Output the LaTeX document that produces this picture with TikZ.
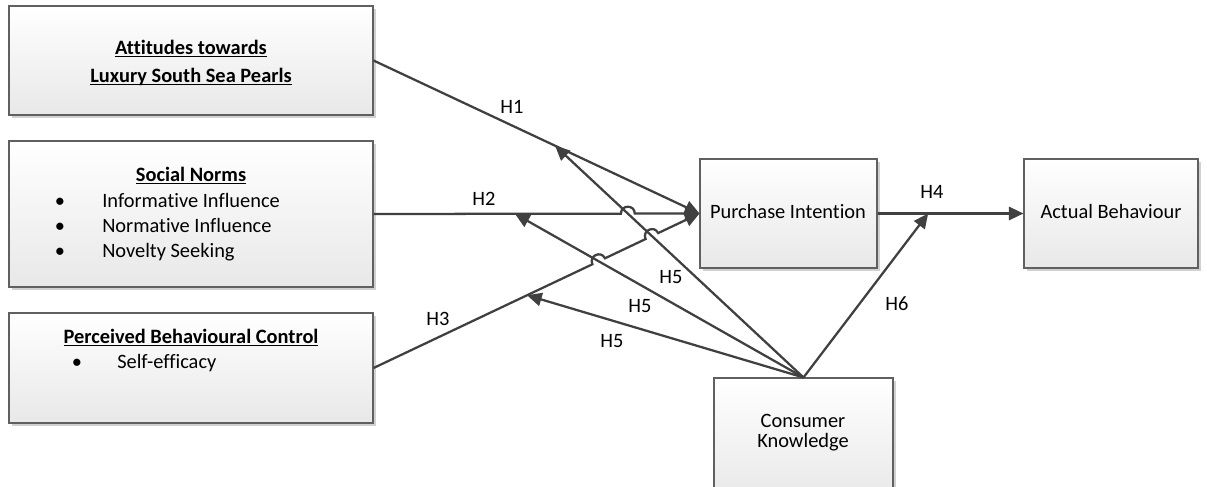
\documentclass[tikz,border=0pt]{standalone}
\usepackage{fontspec}
\setmainfont{Carlito}[Ligatures=NoCommon]
\usetikzlibrary{arrows.meta,calc,fit,shadows}
\newcommand{\ulhead}[1]{\underline{\smash{\textbf{#1}}}}
\definecolor{edgegrey}{HTML}{404040}
\definecolor{boxline}{HTML}{606060}
\definecolor{boxbottom}{HTML}{E8E8E8}

\begin{document}
\begin{tikzpicture}[
        x=0.75pt, y=-0.75pt,
        every node/.style={font=\fontsize{15.3pt}{18pt}\selectfont},
        box/.style={draw=boxline, line width=0.8pt, top color=white, bottom color=boxbottom, inner sep=0pt,
            drop shadow={shadow xshift=2pt, shadow yshift=-2pt, fill=black!18, opacity=1}},
        txt/.style={inner sep=0pt, text height=10.5pt, text depth=3pt},
        link/.style={draw=edgegrey, line width=1.7pt, -{Triangle[length=11pt, width=10pt]}},
        hop/.style={bend left=90, looseness=1.7},
    ]
    \useasboundingbox (0,0) rectangle (1207,486);

    % === LEFT SIDE: constructs ===
    \node[box, fit={(9,6) (373,115)}] (att) {};
    \node[txt] (att1) at (191,49) {\ulhead{Attitudes towards}};
    \node[txt] (att2) at (191,77) {\ulhead{Luxury South Sea Pearls}};

    \node[box, fit={(9,141) (373,287)}] (sn) {};
    \node[txt] (sn0) at (191,176) {\ulhead{Social Norms}};
    \foreach \y/\t [count=\i] in {202/Informative Influence, 227/Normative Influence, 252/Novelty Seeking} {
        \node[txt] (snb\i) at (60,\y) {\textbullet};
        \node[txt, anchor=west] (sn\i) at (102,\y) {\t};
    }

    \node[box, fit={(9,313) (373,423)}] (pbc) {};
    \node[txt] (pbc0) at (191,338) {\ulhead{Perceived Behavioural Control}};
    \node[txt] (pbcb1) at (77,363) {\textbullet};
    \node[txt, anchor=west] (pbc1) at (117,363) {Self-efficacy};

    % === RIGHT SIDE: intention, behaviour, knowledge ===
    \node[box, fit={(700,159) (877,268)}] (pi) {};
    \node[txt] (pitext) at (788,213) {Purchase Intention};

    \node[box, fit={(1024,159) (1198,268)}] (ab) {};
    \node[txt] (abtext) at (1111,213) {Actual Behaviour};

    \node[box, fit={(714,378) (893,500)}] (ck) {};
    \node[txt] (ck1) at (803,422) {Consumer};
    \node[txt] (ck2) at (803,442) {Knowledge};

    % Arrow ends on the paths
    \coordinate (h1end) at ($(att.east)!0.557!(pi.west)$);
    \coordinate (h2end) at ($(sn.east)!0.434!(pi.west)$);
    \coordinate (h3end) at ($(pbc.east)!0.471!(pi.west)$);
    \coordinate (h6end) at ($(pi.east)!0.347!(ab.west)$);

    % Crossings (line hops)
    \coordinate (x2) at (intersection of sn.east--pi.west and ck.north--h1end);
    \coordinate (x3a) at (intersection of pbc.east--pi.west and ck.north--h2end);
    \coordinate (x3b) at (intersection of pbc.east--pi.west and ck.north--h1end);

    % === PATHS ===
    \draw[link] (att.east) -- (pi.west);
    \draw[link] (sn.east) -- ($(x2)!5.2pt!(sn.east)$) to[hop] ($(x2)!5.2pt!(pi.west)$) -- (pi.west);
    \draw[link] (pbc.east) -- ($(x3a)!5.2pt!(pbc.east)$) to[hop] ($(x3a)!5.2pt!(pi.west)$)
        -- ($(x3b)!5.2pt!(pbc.east)$) to[hop] ($(x3b)!5.2pt!(pi.west)$) -- (pi.west);
    \draw[link] (pi.east) -- (ab.west);

    \draw[link] (ck.north) -- (h1end);
    \draw[link] (ck.north) -- (h2end);
    \draw[link] (ck.north) -- (h3end);
    \draw[link] (ck.north) -- (h6end);

    % Labels
    \node[txt] (lh1) at (512,108) {H1};
    \node[txt] (lh2) at (484,200) {H2};
    \node[txt] (lh3) at (438,320) {H3};
    \node[txt] (lh4) at (932,193) {H4};
    \node[txt] (lh5a) at (671,278) {H5};
    \node[txt] (lh5b) at (640,307) {H5};
    \node[txt] (lh5c) at (612,342) {H5};
    \node[txt] (lh6) at (897,305) {H6};

\end{tikzpicture}
\end{document}
